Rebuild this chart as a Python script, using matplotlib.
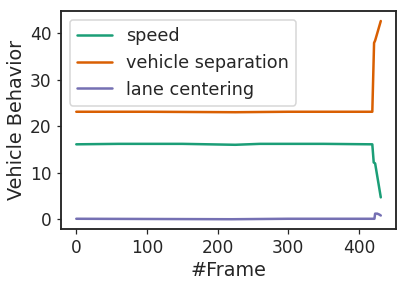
import matplotlib
matplotlib.use("Agg")
import matplotlib.pyplot as plt
import seaborn as sns

# key points (frame, value)
speed_frames = [0, 60, 150, 225, 260, 350, 419, 421, 423, 431]
speed_values = [16.1, 16.2, 16.2, 16.0, 16.2, 16.2, 16.1, 12.2, 12.0, 4.7]

sep_frames = [0, 100, 225, 300, 419, 421.5, 423, 431]
sep_values = [23.1, 23.1, 23.0, 23.1, 23.1, 37.9, 38.4, 42.6]

lane_frames = [0, 220, 300, 422, 423, 426, 429, 431]
lane_values = [0.1, 0.0, 0.1, 0.1, 1.2, 1.2, 1.0, 0.8]

labels = ["speed", "vehicle separation", "lane centering"]

sns.set_style("ticks")
sns.set_context("talk")
colors = sns.color_palette("Dark2", 3)

fig = plt.figure(figsize=(407 / 72, 285 / 72), dpi=72)
ax = fig.add_axes([0.150, 0.196, 0.823, 0.765])

ax.plot(speed_frames, speed_values, color=colors[0], lw=2.5, label=labels[0])
ax.plot(sep_frames, sep_values, color=colors[1], lw=2.5, label=labels[1])
ax.plot(lane_frames, lane_values, color=colors[2], lw=2.5, label=labels[2])

ax.set_xlabel("#Frame", fontsize=19.2)
ax.set_ylabel("Vehicle Behavior", fontsize=19.2)
ax.set_xticks([0, 100, 200, 300, 400])
ax.set_yticks([0, 10, 20, 30, 40])
ax.tick_params(labelsize=17, length=4.5, width=1.25, pad=5)
ax.legend(loc="upper left", fontsize=17.6)

fig.savefig("out.png", dpi=72)
